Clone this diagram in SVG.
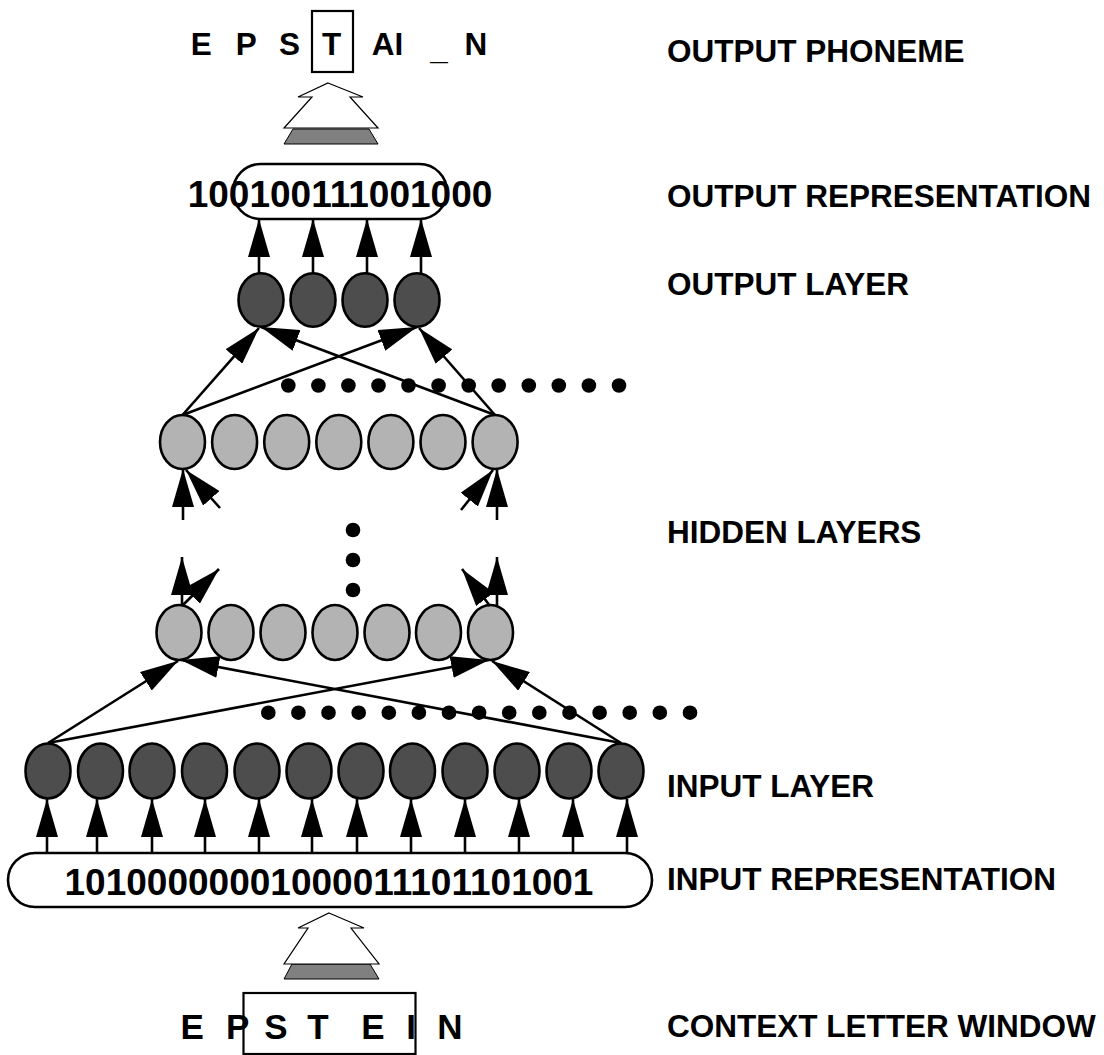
<svg xmlns="http://www.w3.org/2000/svg" width="1104" height="1055" viewBox="0 0 1104 1055">
<defs>
<marker id="ah" viewBox="0 0 38 22" markerWidth="38" markerHeight="22" markerUnits="userSpaceOnUse" refX="38" refY="11" orient="auto">
<path d="M0,0 L38,11 L0,22 Z" fill="#000"/>
</marker>
<style>
text{font-family:"Liberation Sans",Arial,Helvetica,sans-serif;font-weight:bold;fill:#000}
.lbl{font-size:31.5px}
.top{font-size:31.5px}
.bot{font-size:35px}
.bits{font-size:37px;text-anchor:middle}
.dk{fill:#4d4d4d;stroke:#000;stroke-width:2.6}
.lt{fill:#b3b3b3;stroke:#000;stroke-width:2.6}
.rep{fill:none;stroke:#000;stroke-width:2.6}
.box{fill:none;stroke:#000;stroke-width:2.2}
.open{fill:#fff;stroke:#000;stroke-width:1.2}
.shade{fill:#808080;stroke:#000;stroke-width:1}
.dot{fill:#000}
#connectors line{stroke:#000;stroke-width:2.6;marker-end:url(#ah)}
</style>
</defs>
<rect width="1104" height="1055" fill="#fff"/>

<!-- labels -->
<g id="labels">
<text class="lbl" x="667" y="62">OUTPUT PHONEME</text>
<text class="lbl" x="667" y="207">OUTPUT REPRESENTATION</text>
<text class="lbl" x="667" y="295">OUTPUT LAYER</text>
<text class="lbl" x="667" y="543">HIDDEN LAYERS</text>
<text class="lbl" x="667" y="797">INPUT LAYER</text>
<text class="lbl" x="667" y="890">INPUT REPRESENTATION</text>
<text class="lbl" x="667" y="1037">CONTEXT LETTER WINDOW</text>
</g>

<!-- output phoneme -->
<g id="output-phoneme">
<text class="top" x="190.7" y="55">E</text>
<text class="top" x="235.7" y="55">P</text>
<text class="top" x="279" y="55">S</text>
<text class="top" x="322" y="55">T</text>
<text class="top" x="371.7" y="55">AI</text>
<text class="top" x="430.3" y="59">_</text>
<text class="top" x="464.4" y="55">N</text>
<rect class="box" x="312" y="11" width="41" height="61"/>
</g>

<!-- top open arrow -->
<g id="phoneme-arrow">
<polygon class="shade" points="293,129 369,129 378,144 284,144"/>
<polygon class="open" points="328,83 363,97 350,97 378,128 284,128 312,97 298,97"/>
</g>

<!-- output representation -->
<g id="output-representation">
<rect class="rep" x="233" y="164" width="214" height="55" rx="27.5"/>
<text class="bits" x="340" y="207">100100111001000</text>
</g>

<!-- output layer -->
<g id="output-layer">
<ellipse id="o1" class="dk" cx="261" cy="300" rx="22.5" ry="26.7"/>
<ellipse id="o2" class="dk" cx="313" cy="300" rx="22.5" ry="26.7"/>
<ellipse id="o3" class="dk" cx="365" cy="300" rx="22.5" ry="26.7"/>
<ellipse id="o4" class="dk" cx="417" cy="300" rx="22.5" ry="26.7"/>
</g>

<!-- hidden layer upper -->
<g id="hidden-upper">
<ellipse id="h1" class="lt" cx="182.5" cy="442" rx="22.5" ry="27"/>
<ellipse id="h2" class="lt" cx="234.6" cy="442" rx="22.5" ry="27"/>
<ellipse id="h3" class="lt" cx="286.7" cy="442" rx="22.5" ry="27"/>
<ellipse id="h4" class="lt" cx="338.8" cy="442" rx="22.5" ry="27"/>
<ellipse id="h5" class="lt" cx="390.9" cy="442" rx="22.5" ry="27"/>
<ellipse id="h6" class="lt" cx="443" cy="442" rx="22.5" ry="27"/>
<ellipse id="h7" class="lt" cx="495.1" cy="442" rx="22.5" ry="27"/>
</g>

<!-- hidden layer lower -->
<g id="hidden-lower">
<ellipse id="g1" class="lt" cx="179" cy="632.5" rx="22.5" ry="27.5"/>
<ellipse id="g2" class="lt" cx="231" cy="632.5" rx="22.5" ry="27.5"/>
<ellipse id="g3" class="lt" cx="283" cy="632.5" rx="22.5" ry="27.5"/>
<ellipse id="g4" class="lt" cx="335" cy="632.5" rx="22.5" ry="27.5"/>
<ellipse id="g5" class="lt" cx="387" cy="632.5" rx="22.5" ry="27.5"/>
<ellipse id="g6" class="lt" cx="438.5" cy="632.5" rx="22.5" ry="27.5"/>
<ellipse id="g7" class="lt" cx="490.5" cy="632.5" rx="22.5" ry="27.5"/>
</g>

<!-- input layer -->
<g id="input-layer">
<ellipse id="i1" class="dk" cx="48" cy="771" rx="22.5" ry="27.5"/>
<ellipse id="i2" class="dk" cx="100.5" cy="771" rx="22.5" ry="27.5"/>
<ellipse id="i3" class="dk" cx="152" cy="771" rx="22.5" ry="27.5"/>
<ellipse id="i4" class="dk" cx="204.5" cy="771" rx="22.5" ry="27.5"/>
<ellipse id="i5" class="dk" cx="257" cy="771" rx="22.5" ry="27.5"/>
<ellipse id="i6" class="dk" cx="309" cy="771" rx="22.5" ry="27.5"/>
<ellipse id="i7" class="dk" cx="361" cy="771" rx="22.5" ry="27.5"/>
<ellipse id="i8" class="dk" cx="412.5" cy="771" rx="22.5" ry="27.5"/>
<ellipse id="i9" class="dk" cx="465" cy="771" rx="22.5" ry="27.5"/>
<ellipse id="i10" class="dk" cx="517" cy="771" rx="22.5" ry="27.5"/>
<ellipse id="i11" class="dk" cx="569" cy="771" rx="22.5" ry="27.5"/>
<ellipse id="i12" class="dk" cx="621" cy="771" rx="22.5" ry="27.5"/>
</g>

<!-- input representation -->
<g id="input-representation">
<rect class="rep" x="8" y="853" width="644" height="54" rx="27"/>
<text class="bits" x="329" y="895">10100000001000011101101001</text>
</g>

<!-- bottom open arrow -->
<g id="letter-arrow">
<polygon class="shade" points="292,964 370,964 379,979 284,979"/>
<polygon class="open" points="329,913 364,928 351,928 379,964 284,964 308,928 298,928"/>
</g>

<!-- context letter window -->
<g id="context-window">
<text class="bot" x="180.4" y="1039">E</text>
<text class="bot" x="226" y="1039">P</text>
<text class="bot" x="264.3" y="1039">S</text>
<text class="bot" x="307.2" y="1039">T</text>
<text class="bot" x="361.2" y="1039">E</text>
<text class="bot" x="406.3" y="1039">I</text>
<text class="bot" x="437.2" y="1039">N</text>
<rect class="box" x="243.5" y="993" width="172" height="61"/>
</g>

<!-- ellipsis dots -->
<g id="dots-upper">
<circle class="dot" cx="288.3" cy="385.5" r="7.3"/><circle class="dot" cx="318.4" cy="385.5" r="7.3"/>
<circle class="dot" cx="348.4" cy="385.5" r="7.3"/><circle class="dot" cx="378.5" cy="385.5" r="7.3"/>
<circle class="dot" cx="408.5" cy="385.5" r="7.3"/><circle class="dot" cx="438.6" cy="385.5" r="7.3"/>
<circle class="dot" cx="468.7" cy="385.5" r="7.3"/><circle class="dot" cx="498.7" cy="385.5" r="7.3"/>
<circle class="dot" cx="528.8" cy="385.5" r="7.3"/><circle class="dot" cx="558.8" cy="385.5" r="7.3"/>
<circle class="dot" cx="588.9" cy="385.5" r="7.3"/><circle class="dot" cx="619" cy="385.5" r="7.3"/>
</g>
<g id="dots-vertical">
<circle class="dot" cx="353" cy="530" r="7.3"/>
<circle class="dot" cx="353" cy="560" r="7.3"/>
<circle class="dot" cx="353" cy="590" r="7.3"/>
</g>
<g id="dots-lower">
<circle class="dot" cx="268.3" cy="712.7" r="7.3"/><circle class="dot" cx="298.4" cy="712.7" r="7.3"/>
<circle class="dot" cx="328.5" cy="712.7" r="7.3"/><circle class="dot" cx="358.7" cy="712.7" r="7.3"/>
<circle class="dot" cx="388.8" cy="712.7" r="7.3"/><circle class="dot" cx="418.9" cy="712.7" r="7.3"/>
<circle class="dot" cx="449" cy="712.7" r="7.3"/><circle class="dot" cx="479.1" cy="712.7" r="7.3"/>
<circle class="dot" cx="509.2" cy="712.7" r="7.3"/><circle class="dot" cx="539.3" cy="712.7" r="7.3"/>
<circle class="dot" cx="569.5" cy="712.7" r="7.3"/><circle class="dot" cx="599.6" cy="712.7" r="7.3"/>
<circle class="dot" cx="629.7" cy="712.7" r="7.3"/><circle class="dot" cx="659.8" cy="712.7" r="7.3"/>
<circle class="dot" cx="690" cy="712.7" r="7.3"/>
</g>

<g id="connectors">
<!-- output layer to output representation -->
<line x1="259" y1="274" x2="259" y2="219"/>
<line x1="313" y1="274" x2="313" y2="219"/>
<line x1="367" y1="274" x2="367" y2="219"/>
<line x1="421" y1="275" x2="421" y2="219"/>
<!-- upper hidden to output -->
<line x1="182.5" y1="415" x2="259" y2="328"/>
<line x1="182.5" y1="415" x2="417" y2="327"/>
<line x1="495" y1="415" x2="261" y2="327"/>
<line x1="495" y1="415" x2="419" y2="328"/>
<!-- into upper hidden from below -->
<line x1="183" y1="520" x2="183" y2="469"/>
<line x1="220" y1="508" x2="186" y2="470"/>
<line x1="497" y1="520" x2="497" y2="469"/>
<line x1="461" y1="510" x2="493" y2="470"/>
<!-- out of lower hidden upward -->
<line x1="182" y1="606" x2="182" y2="557"/>
<line x1="182" y1="606" x2="219" y2="569"/>
<line x1="497" y1="607" x2="497" y2="557"/>
<line x1="490" y1="606" x2="462" y2="569"/>
<!-- input to lower hidden -->
<line x1="48" y1="743" x2="178" y2="661"/>
<line x1="48" y1="743" x2="489" y2="660"/>
<line x1="621" y1="743" x2="181" y2="660"/>
<line x1="621" y1="743" x2="492" y2="661"/>
<!-- input representation to input layer -->
<line x1="47" y1="853" x2="47" y2="799"/>
<line x1="97" y1="853" x2="97" y2="799"/>
<line x1="152" y1="853" x2="152" y2="799"/>
<line x1="205" y1="853" x2="205" y2="799"/>
<line x1="259" y1="853" x2="259" y2="799"/>
<line x1="312" y1="853" x2="312" y2="799"/>
<line x1="357" y1="853" x2="357" y2="799"/>
<line x1="411" y1="853" x2="411" y2="799"/>
<line x1="465" y1="853" x2="465" y2="799"/>
<line x1="519" y1="853" x2="519" y2="799"/>
<line x1="573" y1="853" x2="573" y2="799"/>
<line x1="627" y1="853" x2="627" y2="799"/>
</g>
</svg>
